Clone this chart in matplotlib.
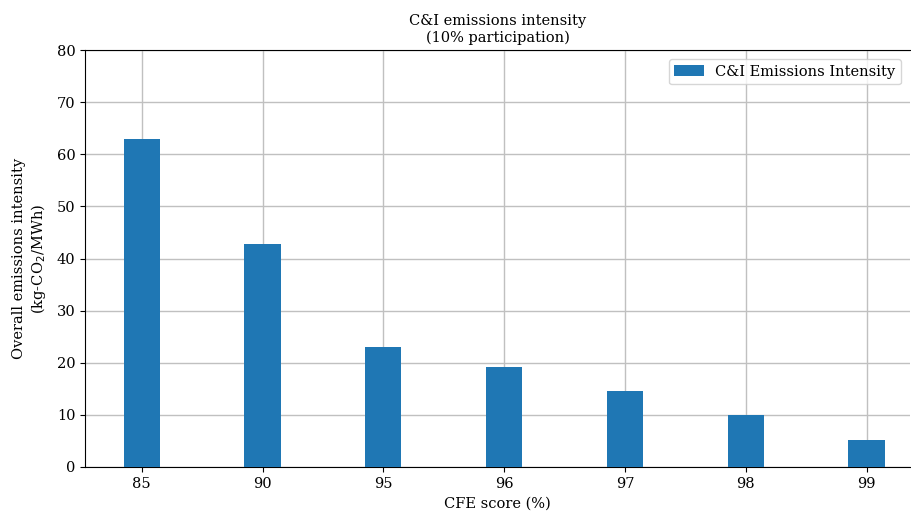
import matplotlib
matplotlib.use("Agg")
import matplotlib.pyplot as plt

# CFE score levels and the resulting C&I emissions intensity
cfe_scores = ["85", "90", "95", "96", "97", "98", "99"]
intensity = [62.9, 42.8, 23.0, 19.1, 14.5, 9.9, 5.2]

plt.rcParams["font.family"] = ["DejaVu Serif"]
plt.rcParams["font.size"] = 10.5

fig = plt.figure(figsize=(9.11, 5.15), dpi=100)
ax = fig.add_axes([85 / 911, 1 - 467 / 515, 825 / 911, 417 / 515])

x = range(len(cfe_scores))
ax.bar(x, intensity, width=0.3, color="#1f77b4", label="C&I Emissions Intensity", zorder=3)

ax.set_xticks(list(x))
ax.set_xticklabels(cfe_scores)
ax.set_xlim(-0.47, 6.36)
ax.set_ylim(0, 80)
ax.set_yticks(range(0, 81, 10))
ax.grid(True, color="#c0c0c0", linewidth=1.0, zorder=0)
ax.spines["right"].set_visible(False)

ax.set_xlabel("CFE score (%)")
ax.set_ylabel("Overall emissions intensity\n(kg-CO$_2$/MWh)", labelpad=6)
ax.set_title("C&I emissions intensity\n(10% participation)", fontsize=10.5)
ax.legend(loc="upper right", borderaxespad=0.6)

fig.savefig("out.png", dpi=100)
